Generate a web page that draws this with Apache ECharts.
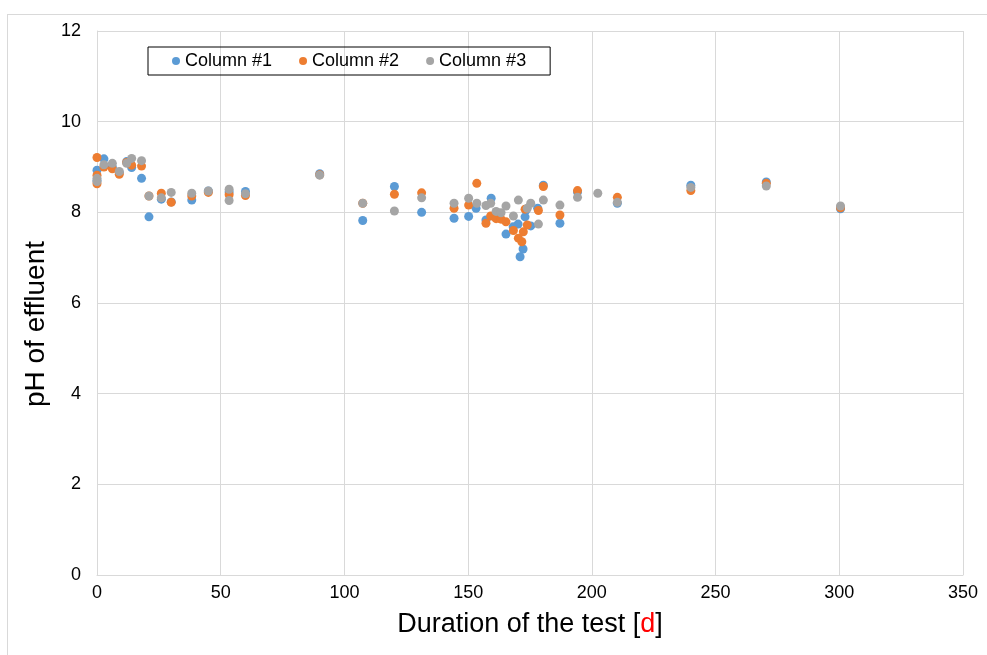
<!DOCTYPE html>
<html>
<head>
<meta charset="utf-8">
<script src="https://cdn.jsdelivr.net/npm/echarts@6/dist/echarts.min.js"></script>
<style>
  body { margin: 0; background: #fff; }
  #frame { position: absolute; left: 7px; top: 14px; width: 990px; height: 650px; border: 1px solid #d9d9d9; }
  #chart { position: absolute; left: 0; top: 0; width: 987px; height: 655px; }
</style>
</head>
<body>
<div id="frame"></div>
<div id="chart"></div>
<script>
// [day, pH]
const column1 = [
  [0, 8.93], [0, 8.7], [2.8, 9.18], [6.2, 9.0], [9, 8.88], [12, 9.12], [14, 8.99], [18, 8.75],
  [21, 7.9], [26, 8.29], [30, 8.23], [38.3, 8.27], [45, 8.47], [53.4, 8.45], [60, 8.46],
  [90, 8.85], [107.4, 7.82], [120.2, 8.57], [131.2, 8.0], [144.3, 7.87], [150.2, 7.91],
  [153.2, 8.09], [157.2, 7.83], [159.3, 8.31], [165.3, 7.52], [168.2, 7.68], [170.2, 7.74],
  [171, 7.02], [172.2, 7.19], [173, 7.9], [173.4, 8.05], [175.3, 7.7], [178.1, 8.09],
  [180.4, 8.6], [187.1, 7.76], [194.2, 8.45], [210.3, 8.2], [240, 8.6], [270.5, 8.67], [300.5, 8.08]
]
const column2 = [
  [0, 9.21], [0, 8.82], [0, 8.63], [2.8, 9.0], [6.2, 8.96], [9, 8.84], [12, 9.1], [14, 9.04],
  [18, 9.02], [21, 8.36], [26, 8.42], [30, 8.22], [38.3, 8.36], [45, 8.44], [53.4, 8.39],
  [60, 8.37], [90, 8.83], [107.4, 8.2], [120.2, 8.4], [131.2, 8.43], [144.3, 8.09],
  [150.2, 8.16], [153.5, 8.64], [157.2, 7.76], [159.1, 7.92], [161.3, 7.86], [163.3, 7.85],
  [165.3, 7.79], [168.3, 7.6], [170.3, 7.43], [171.7, 7.35], [172.3, 7.57], [173, 8.07],
  [173.9, 7.72], [178.4, 8.04], [180.4, 8.57], [187.1, 7.94], [194.2, 8.48], [210.3, 8.33],
  [240, 8.48], [270.5, 8.64], [300.5, 8.1]
]
const column3 = [
  [0, 8.75], [0, 8.68], [2.8, 9.05], [6.2, 9.08], [9, 8.9], [12, 9.08], [14, 9.19], [18, 9.14],
  [21, 8.36], [26, 8.32], [30, 8.44], [38.3, 8.42], [45, 8.47], [53.4, 8.51], [53.4, 8.26],
  [60, 8.41], [90, 8.82], [107.4, 8.2], [120.2, 8.03], [131.2, 8.32], [144.3, 8.2],
  [150.2, 8.31], [153.5, 8.2], [157.2, 8.15], [159.1, 8.2], [161.3, 8.02], [163.3, 7.99],
  [165.3, 8.14], [168.3, 7.92], [170.3, 8.27], [173.9, 8.09], [175.3, 8.2], [178.4, 7.74],
  [180.4, 8.27], [187.1, 8.16], [194.2, 8.33], [202.4, 8.42], [210.3, 8.22], [240, 8.55],
  [270.5, 8.58], [300.5, 8.14]
]
const seriesNames = ['Column #1', 'Column #2', 'Column #3']
const colors = ['#5B9BD5', '#ED7D31', '#A5A5A5']

const font = 'Liberation Sans, Arial, sans-serif'
const chart = echarts.init(document.getElementById('chart'))

const option = {
  animation: false,
  color: colors,
  textStyle: { fontFamily: font },
  grid: { left: 97, top: 31, right: 24, bottom: 80 },
  legend: {
    left: 148, top: 47,
    padding: [5, 24, 5, 24],
    itemGap: 27,
    itemWidth: 8, itemHeight: 8,
    icon: 'circle',
    borderColor: '#000', borderWidth: 1,
    textStyle: { fontSize: 18, color: '#000', fontFamily: font },
    data: seriesNames
  },
  xAxis: {
    type: 'value', min: 0, max: 350, interval: 50,
    name: '{a|Duration of the test [}{b|d}{a|]}',
    nameLocation: 'middle', nameGap: 36,
    nameTextStyle: {
      rich: {
        a: { fontSize: 27, color: '#000', fontFamily: font },
        b: { fontSize: 27, color: '#ff0000', fontFamily: font }
      }
    },
    axisLine: { lineStyle: { color: '#d9d9d9' } },
    axisTick: { show: false },
    axisLabel: { fontSize: 18, color: '#000', margin: 9 },
    splitLine: { lineStyle: { color: '#d9d9d9' } }
  },
  yAxis: {
    type: 'value', min: 0, max: 12, interval: 2,
    name: 'pH of effluent',
    nameLocation: 'middle', nameGap: 33,
    nameTextStyle: { fontSize: 28, color: '#000', fontFamily: font, padding: [0, 42, 0, 0] },
    axisLine: { show: true, lineStyle: { color: '#d9d9d9' } },
    axisTick: { show: false },
    axisLabel: { fontSize: 18, color: '#000', margin: 16 },
    splitLine: { lineStyle: { color: '#d9d9d9' } }
  },
  series: [column1, column2, column3].map((d, i) => ({
    name: seriesNames[i],
    type: 'scatter',
    symbol: 'circle',
    symbolSize: 9,
    itemStyle: { opacity: 1 },
    data: d
  }))
}
chart.setOption(option)
</script>
</body>
</html>
